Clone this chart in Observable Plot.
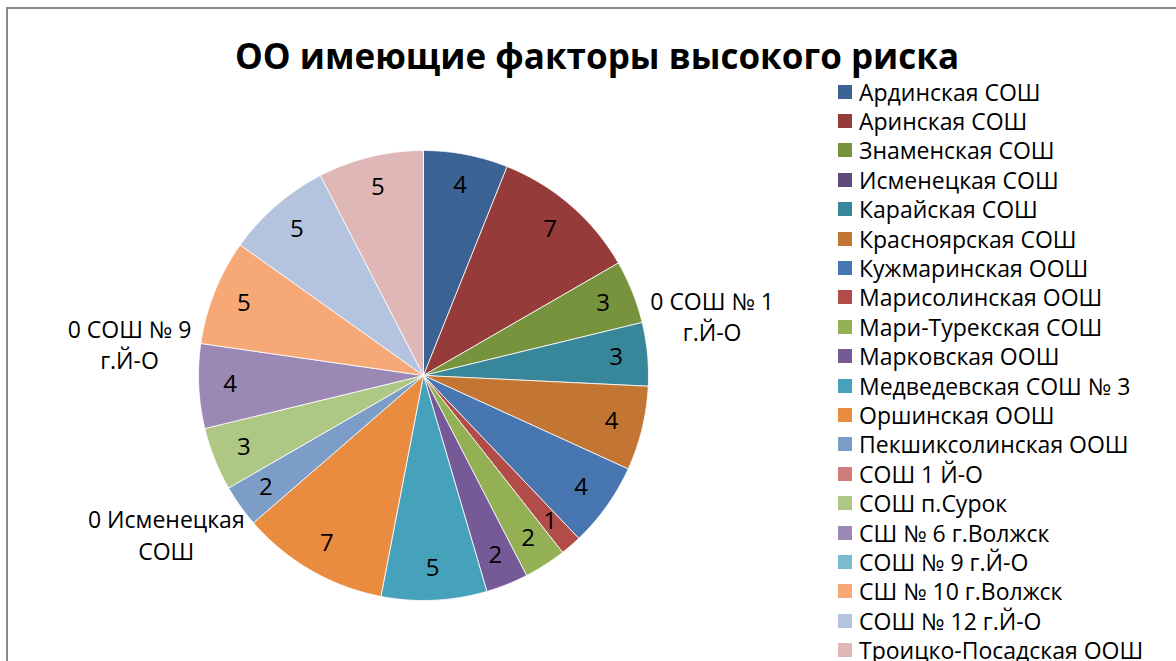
<!DOCTYPE html>
<html>
<head>
<meta charset="utf-8">
<script src="https://cdn.jsdelivr.net/npm/d3@7"></script>
<script src="https://cdn.jsdelivr.net/npm/@observablehq/plot@0.6"></script>
<style>
  html, body { margin: 0; padding: 0; background: #fff; }
  body { width: 1176px; height: 661px; position: relative; overflow: hidden; font-family: "Open Sans", Lato, sans-serif; }
  #frame { position: absolute; left: 6px; top: 7px; width: 1300px; height: 800px; border-left: 2px solid #888; border-top: 2px solid #888; }
  #chart { position: absolute; left: 0; top: 0; }
  #title { position: absolute; left: 97px; width: 1000px; top: 38px; text-align: center; font-size: 35px; font-weight: 700; color: #000; line-height: 1; white-space: nowrap; }
  #legend { position: absolute; left: 838px; top: 77px; }
  .row { height: 29.4px; display: flex; align-items: center; font-size: 23px; color: #000; white-space: nowrap; }
  .sw { width: 14px; height: 14px; margin-right: 7px; flex: none; }
</style>
</head>
<body>
<div id="frame"></div>
<div id="chart"></div>
<div id="title">ОО имеющие факторы высокого риска</div>
<div id="legend"></div>
<script>
const categories = [
  "Ардинская СОШ", "Аринская СОШ", "Знаменская СОШ", "Исменецкая СОШ", "Карайская СОШ",
  "Красноярская СОШ", "Кужмаринская ООШ", "Марисолинская ООШ", "Мари-Турекская СОШ", "Марковская ООШ",
  "Медведевская СОШ № 3", "Оршинская ООШ", "Пекшиксолинская ООШ", "СОШ 1 Й-О", "СОШ п.Сурок",
  "СШ № 6 г.Волжск", "СОШ № 9 г.Й-О", "СШ № 10 г.Волжск", "СОШ № 12 г.Й-О", "Троицко-Посадская ООШ"
];
const values = [4, 7, 3, 0, 3, 4, 4, 1, 2, 2, 5, 7, 2, 0, 3, 4, 0, 5, 5, 5];
const colors = [
  "#3b6495", "#953b39", "#77933d", "#5f4a7b", "#38869a", "#c37533", "#4876b0", "#b24c49", "#93b154", "#765a98",
  "#46a2bb", "#e98c40", "#7d9dc9", "#cf7c7a", "#afc784", "#9c88b4", "#7bbbd0", "#f6a977", "#b4c3de", "#dfb7b6"
];
// data-label texts as shown in the picture (zero-valued slices carry a name)
const dataLabels = ["4", "7", "3", "0 СОШ № 1\nг.Й-О", "3", "4", "4", "1", "2", "2",
  "5", "7", "2", "0 Исменецкая\nСОШ", "3", "4", "0 СОШ № 9\nг.Й-О", "5", "5", "5"];

const W = 1176, H = 661, R = 225, CX = 423, CY = 375;

const arcs = d3.pie().sort(null).value(d => d)(values);

const slices = [];
arcs.forEach((a, i) => {
  if (a.endAngle - a.startAngle <= 0) return;
  const n = Math.max(2, Math.ceil((a.endAngle - a.startAngle) / 0.01));
  slices.push({key: i, x: 0, y: 0, color: colors[i]});
  for (let k = 0; k <= n; k++) {
    const t = a.startAngle + (a.endAngle - a.startAngle) * k / n;
    slices.push({key: i, x: Math.sin(t), y: Math.cos(t), color: colors[i]});
  }
  slices.push({key: i, x: 0, y: 0, color: colors[i]});
});

const inner = [], outer = [];
arcs.forEach((a, i) => {
  const m = (a.startAngle + a.endAngle) / 2;
  if (values[i] > 0) inner.push({x: 0.86 * Math.sin(m), y: 0.86 * Math.cos(m), text: dataLabels[i]});
  else outer.push({x: 1.32 * Math.sin(m), y: 1.32 * Math.cos(m), text: dataLabels[i]});
});

const chart = Plot.plot({
  width: W, height: H,
  margin: 0,
  x: {domain: [-CX / R, (W - CX) / R], range: [0, W], axis: null},
  y: {domain: [-(H - CY) / R, CY / R], range: [H, 0], axis: null},
  color: {type: "identity"},
  style: {fontFamily: "'Open Sans', Lato, sans-serif", background: "transparent"},
  marks: [
    Plot.line(slices, {x: "x", y: "y", z: "key", fill: "color", stroke: "white", strokeWidth: 0.8, curve: "linear-closed"}),
    Plot.text(inner, {x: "x", y: "y", text: "text", fontSize: 24, fill: "black"}),
    Plot.text(outer, {x: "x", y: "y", text: "text", fontSize: 23, fill: "black", lineHeight: 1.38, dy: 10})
  ]
});
document.getElementById("chart").appendChild(chart);

const legend = d3.select("#legend");
categories.forEach((c, i) => {
  const row = legend.append("div").attr("class", "row");
  row.append("div").attr("class", "sw").style("background", colors[i]);
  row.append("span").text(c);
});
</script>
</body>
</html>
